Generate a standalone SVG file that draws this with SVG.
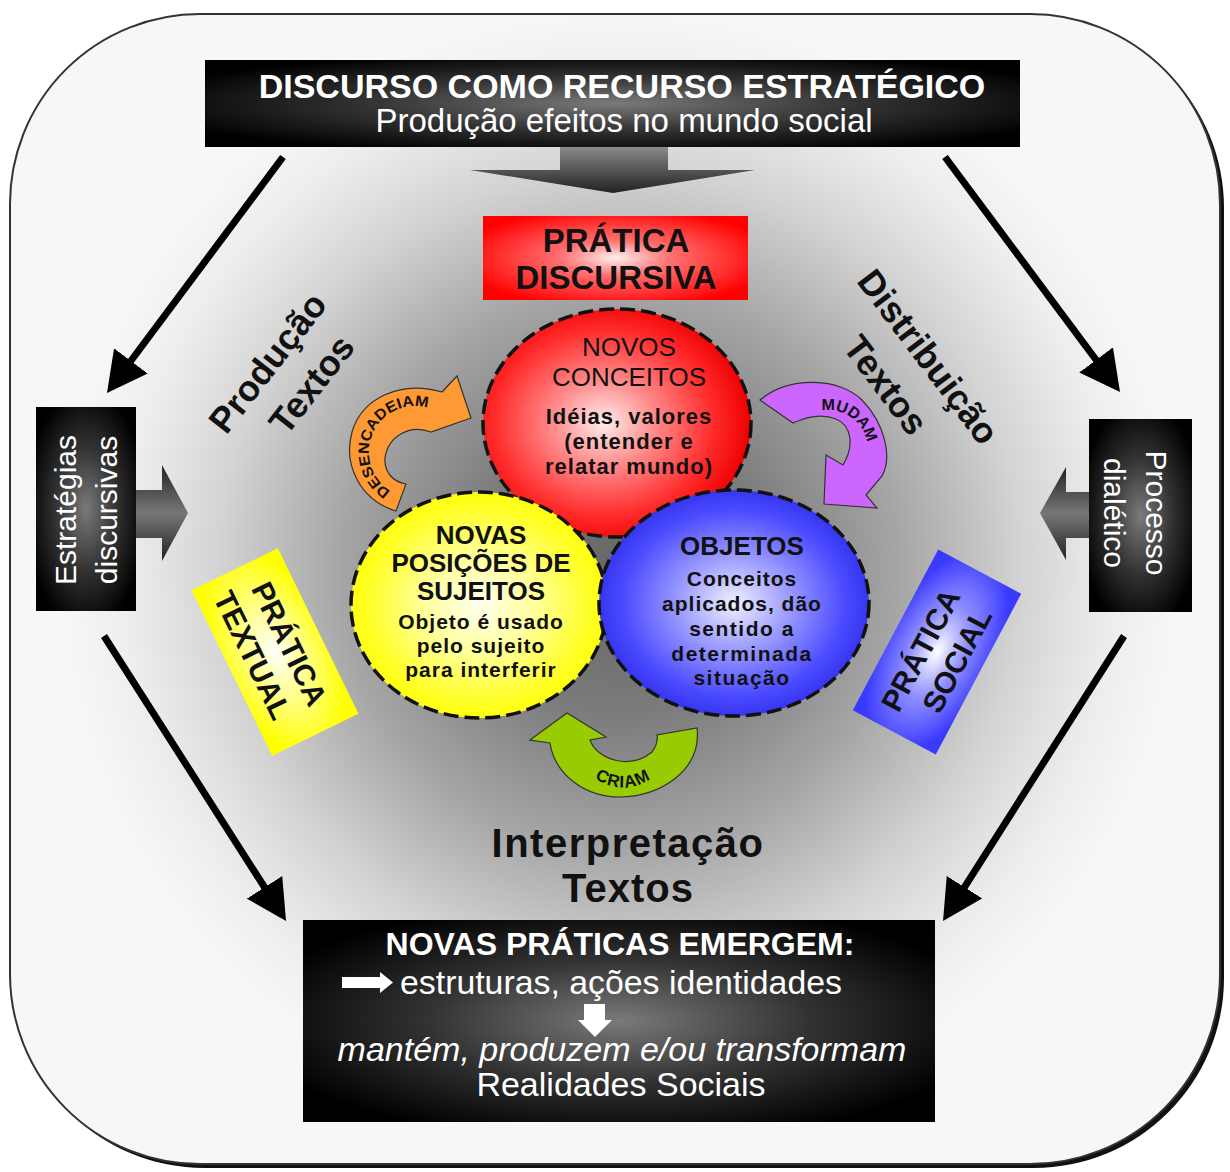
<svg xmlns="http://www.w3.org/2000/svg" width="1230" height="1172" viewBox="0 0 1230 1172">
<defs>
<style>
.t{font-family:"Liberation Sans",Arial,sans-serif}
.b{font-weight:bold}
.w{fill:#fff}
.k{fill:#111}
.circ{stroke:#111;stroke-width:3.5;stroke-dasharray:15 6}
.conn{stroke:#000;stroke-width:7;fill:none;marker-end:url(#ah)}
.curve{stroke:#333;stroke-width:1.2}
</style>
<radialGradient id="bg" cx="620" cy="570" r="560" gradientUnits="userSpaceOnUse">
<stop offset="0" stop-color="#666"/>
<stop offset="0.25" stop-color="#7a7a7a"/>
<stop offset="0.5" stop-color="#a6a6a6"/>
<stop offset="0.72" stop-color="#d4d4d4"/>
<stop offset="0.88" stop-color="#ededed"/>
<stop offset="1" stop-color="#f7f7f7"/>
</radialGradient>
<radialGradient id="gDark" cx="0.5" cy="0.5" r="0.6">
<stop offset="0" stop-color="#7a7a7a"/>
<stop offset="0.5" stop-color="#333"/>
<stop offset="1" stop-color="#000"/>
</radialGradient>
<linearGradient id="gDown" x1="0" y1="0" x2="0" y2="1">
<stop offset="0" stop-color="#8a8a8a"/>
<stop offset="0.5" stop-color="#555"/>
<stop offset="1" stop-color="#222"/>
</linearGradient>
<linearGradient id="gSide" x1="0" y1="0" x2="0" y2="1">
<stop offset="0" stop-color="#222"/>
<stop offset="0.5" stop-color="#777"/>
<stop offset="1" stop-color="#222"/>
</linearGradient>
<radialGradient id="gRedBox" cx="0.5" cy="0.5" r="0.6">
<stop offset="0" stop-color="#fff0f0"/>
<stop offset="0.35" stop-color="#ff7070"/>
<stop offset="1" stop-color="#ff0000"/>
</radialGradient>
<radialGradient id="gRed" cx="0.45" cy="0.5" r="0.55">
<stop offset="0" stop-color="#ffecec"/>
<stop offset="0.35" stop-color="#ff8a8a"/>
<stop offset="0.75" stop-color="#ff2a2a"/>
<stop offset="1" stop-color="#ee0000"/>
</radialGradient>
<radialGradient id="gYel" cx="0.5" cy="0.5" r="0.55">
<stop offset="0" stop-color="#ffffee"/>
<stop offset="0.4" stop-color="#ffff99"/>
<stop offset="0.8" stop-color="#ffff22"/>
<stop offset="1" stop-color="#ffff00"/>
</radialGradient>
<radialGradient id="gBlue" cx="0.5" cy="0.5" r="0.55">
<stop offset="0" stop-color="#f0f0ff"/>
<stop offset="0.35" stop-color="#a0a0ff"/>
<stop offset="0.75" stop-color="#4a4aff"/>
<stop offset="1" stop-color="#2a2ae8"/>
</radialGradient>
<radialGradient id="gYelBox" cx="0.5" cy="0.5" r="0.6">
<stop offset="0" stop-color="#ffffff"/>
<stop offset="0.45" stop-color="#ffff88"/>
<stop offset="1" stop-color="#ffff00"/>
</radialGradient>
<radialGradient id="gBlueBox" cx="0.5" cy="0.5" r="0.6">
<stop offset="0" stop-color="#ffffff"/>
<stop offset="0.45" stop-color="#8f8fff"/>
<stop offset="1" stop-color="#3a3aff"/>
</radialGradient>
<marker id="ah" markerUnits="userSpaceOnUse" markerWidth="40" markerHeight="42" viewBox="0 0 40 42" refX="2" refY="21" orient="auto">
<path d="M0 0 L40 21 L0 42 Z" fill="#000"/>
</marker>
<path id="pOrange" d="M393.4 492.6 A46 46 0 1 1 439.4 413"/>
<path id="pPurple" d="M811.1 413.8 A40 40 0 0 1 867.8 453.5"/>
<path id="pGreen" d="M574 760 Q623 815 672 760"/>
</defs>

<g id="background">
<rect x="14" y="18" width="1210" height="1150" rx="190" fill="#111"/>
<rect x="10" y="14" width="1210" height="1150" rx="190" fill="url(#bg)" stroke="#333" stroke-width="2"/>
</g>

<g id="connectors">
<line class="conn" x1="283" y1="157" x2="129.7" y2="362.5"/>
<line class="conn" x1="945" y1="157" x2="1097.3" y2="361.5"/>
<line class="conn" x1="104" y1="636" x2="265.6" y2="889"/>
<line class="conn" x1="1124" y1="636" x2="963.4" y2="888.9"/>
<polygon points="560,147 668,147 668,170 755,170 613,193 470,170 560,170" fill="url(#gDown)"/>
<polygon points="135,490 162,490 162,465 188,513 162,561 162,538 135,538" fill="url(#gSide)"/>
<polygon points="1089,492 1066,492 1066,467 1040,513 1066,560 1066,538 1089,538" fill="url(#gSide)"/>
<g id="arrow-desencadeiam">
<path class="curve" d="M396 511 C360 500 343 465 352 432 C362 398 400 380 442 392 L457 376 L471 418 L431 432 C410 424 388 436 385 458 C384 472 393 482 406 484 Z" fill="#ff9933"/>
<text class="t b k" font-size="15"><textPath href="#pOrange" startOffset="3" textLength="132" lengthAdjust="spacingAndGlyphs">DESENCADEIAM</textPath></text>
</g>
<g id="arrow-mudam">
<path class="curve" d="M760 400 C790 375 840 378 862 400 C886 425 892 458 882 476 L866 495 L877 508 L824 504 L826 455 L843 465 C855 445 851 425 836 419 C821 413 806 417 793 423 Z" fill="#cc66ff"/>
<text class="t b k" font-size="16"><textPath href="#pPurple" startOffset="50%" text-anchor="middle">MUDAM</textPath></text>
</g>
<g id="arrow-criam">
<path class="curve" d="M530 740 L567 713 L606 737 L590 740 C597 760 630 770 652 752 C657 745 658 740 657 735 L697 728 C702 770 660 797 620 797 C585 797 555 775 550 743 Z" fill="#99cc00"/>
<text class="t b k" font-size="17" letter-spacing="1"><textPath href="#pGreen" startOffset="50%" text-anchor="middle">CRIAM</textPath></text>
</g>
</g>

<g id="top-box">
<rect x="205" y="60" width="815" height="87" fill="url(#gDark)"/>
<text class="t b w" x="622" y="98" font-size="34" text-anchor="middle">DISCURSO COMO RECURSO ESTRATÉGICO</text>
<text class="t w" x="624" y="132" font-size="33" text-anchor="middle">Produção efeitos no mundo social</text>
</g>

<g id="pratica-discursiva">
<rect x="483" y="216" width="265" height="84" fill="url(#gRedBox)"/>
<text class="t b k" x="616" y="252" font-size="33" text-anchor="middle">PRÁTICA</text>
<text class="t b k" x="616" y="289" font-size="33" text-anchor="middle">DISCURSIVA</text>
</g>

<g id="estrategias">
<rect x="36" y="407" width="100" height="204" fill="url(#gDark)"/>
<g transform="translate(86 510) rotate(-90)">
<text class="t w" x="0" y="-10" font-size="30" text-anchor="middle">Estratégias</text>
<text class="t w" x="0" y="31" font-size="30" text-anchor="middle">discursivas</text>
</g>
</g>

<g id="processo">
<rect x="1089" y="419" width="103" height="193" fill="url(#gDark)"/>
<g transform="translate(1140 513) rotate(90)">
<text class="t w" x="0" y="-6" font-size="30" text-anchor="middle">Processo</text>
<text class="t w" x="0" y="36" font-size="30" text-anchor="middle">dialético</text>
</g>
</g>

<g id="producao-label" transform="translate(268 363) rotate(-52)">
<text class="t b k" x="0" y="12" font-size="36" text-anchor="middle">Produção</text>
<text class="t b k" x="10" y="60" font-size="36" text-anchor="middle">Textos</text>
</g>

<g id="distribuicao-label" transform="translate(928 357) rotate(53)">
<text class="t b k" x="0" y="12" font-size="36" text-anchor="middle">Distribuição</text>
<text class="t b k" x="-3" y="63" font-size="36" text-anchor="middle">Textos</text>
</g>

<g id="pratica-textual" transform="translate(275 652) rotate(64)">
<rect x="-92" y="-48" width="184" height="96" fill="url(#gYelBox)"/>
<text class="t b k" x="-1" y="-6" font-size="30" text-anchor="middle">PRÁTICA</text>
<text class="t b k" x="-7" y="32" font-size="30" text-anchor="middle">TEXTUAL</text>
</g>

<g id="pratica-social" transform="translate(937 652) rotate(-62)">
<rect x="-91" y="-47" width="182" height="94" fill="url(#gBlueBox)"/>
<text class="t b k" x="-6" y="-5" font-size="30" text-anchor="middle">PRÁTICA</text>
<text class="t b k" x="2" y="32" font-size="30" text-anchor="middle">SOCIAL</text>
</g>

<g id="novos-conceitos">
<ellipse class="circ" cx="617" cy="423" rx="134" ry="114" fill="url(#gRed)"/>
<text class="t k" x="629" y="356" font-size="26" text-anchor="middle">NOVOS</text>
<text class="t k" x="629" y="386" font-size="26" text-anchor="middle">CONCEITOS</text>
<text class="t b k" x="629" y="424" font-size="22" letter-spacing="1" text-anchor="middle">Idéias, valores</text>
<text class="t b k" x="629" y="449" font-size="22" letter-spacing="1" text-anchor="middle">(entender e</text>
<text class="t b k" x="629" y="474" font-size="22" letter-spacing="1" text-anchor="middle">relatar mundo)</text>
</g>

<g id="novas-posicoes">
<ellipse class="circ" cx="479" cy="605" rx="128" ry="113" fill="url(#gYel)"/>
<text class="t b k" x="481" y="544" font-size="26" text-anchor="middle">NOVAS</text>
<text class="t b k" x="481" y="572" font-size="26" text-anchor="middle">POSIÇÕES DE</text>
<text class="t b k" x="481" y="600" font-size="26" text-anchor="middle">SUJEITOS</text>
<text class="t b k" x="481" y="629" font-size="21" letter-spacing="1" text-anchor="middle">Objeto é usado</text>
<text class="t b k" x="481" y="653" font-size="21" letter-spacing="1" text-anchor="middle">pelo sujeito</text>
<text class="t b k" x="481" y="677" font-size="21" letter-spacing="1" text-anchor="middle">para interferir</text>
</g>

<g id="objetos">
<ellipse class="circ" cx="734" cy="603" rx="135" ry="113" fill="url(#gBlue)"/>
<text class="t b k" x="742" y="555" font-size="26" text-anchor="middle">OBJETOS</text>
<text class="t b k" x="742" y="586" font-size="21" letter-spacing="1" text-anchor="middle">Conceitos</text>
<text class="t b k" x="742" y="611" font-size="21" letter-spacing="1" text-anchor="middle">aplicados, dão</text>
<text class="t b k" x="742" y="636" font-size="21" letter-spacing="1.5" text-anchor="middle">sentido a</text>
<text class="t b k" x="742" y="661" font-size="21" letter-spacing="1.5" text-anchor="middle">determinada</text>
<text class="t b k" x="742" y="685" font-size="21" letter-spacing="1.5" text-anchor="middle">situação</text>
</g>

<g id="interpretacao-label">
<text class="t b k" x="628" y="857" font-size="40" letter-spacing="1.5" text-anchor="middle">Interpretação</text>
<text class="t b k" x="628" y="902" font-size="40" letter-spacing="1" text-anchor="middle">Textos</text>
</g>

<g id="bottom-box">
<rect x="303" y="920" width="632" height="202" fill="url(#gDark)"/>
<text class="t b w" x="620" y="955" font-size="32" text-anchor="middle">NOVAS PRÁTICAS EMERGEM:</text>
<polygon points="342,977 380,977 380,972 393,982.5 380,993 380,988 342,988" fill="#fff"/>
<text class="t w" x="400" y="994" font-size="33" textLength="442" lengthAdjust="spacingAndGlyphs">estruturas, ações identidades</text>
<polygon points="584,1004 605,1004 605,1020 612,1020 595,1037 578,1020 584,1020" fill="#fff"/>
<text class="t w" x="622" y="1061" font-size="34" font-style="italic" text-anchor="middle">mantém, produzem e/ou transformam</text>
<text class="t w" x="621" y="1096" font-size="34" text-anchor="middle">Realidades Sociais</text>
</g>
</svg>
